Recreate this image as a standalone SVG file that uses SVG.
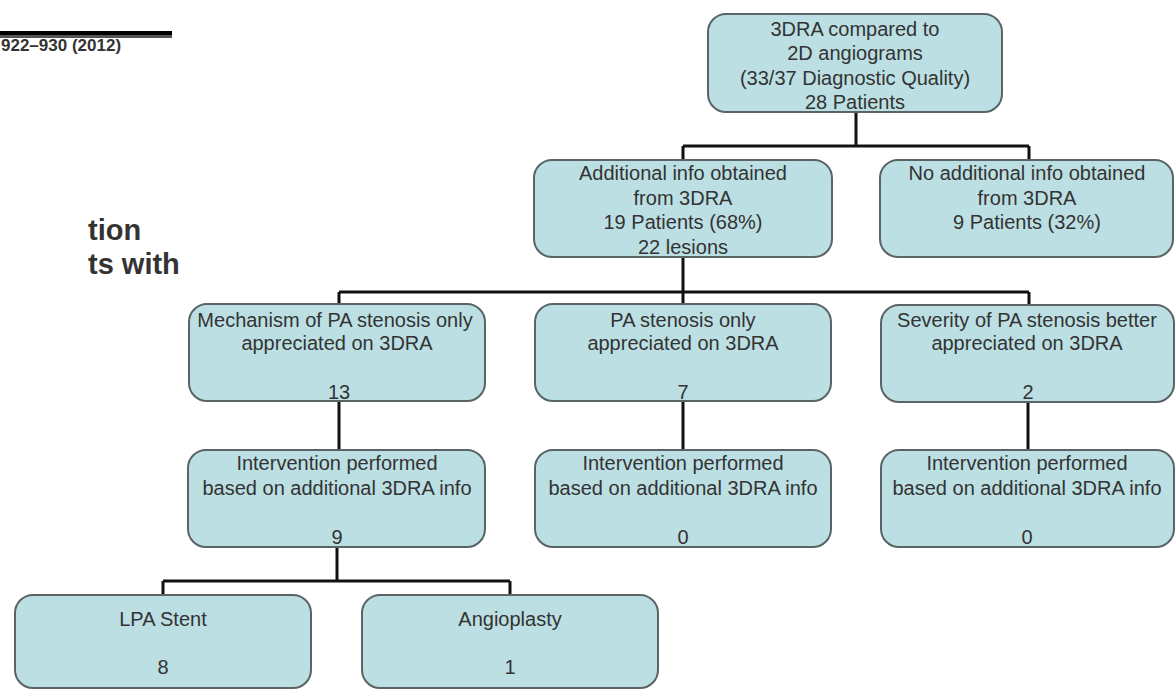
<svg xmlns="http://www.w3.org/2000/svg" width="1175" height="691" viewBox="0 0 1175 691">
<style>
.box{fill:#bcdfe3;stroke:#5a6466;stroke-width:2}
.t{font-family:"Liberation Sans",Arial,sans-serif;font-size:20px;fill:#333;text-anchor:middle}
.c{fill:none;stroke:#111;stroke-width:3}
.hdr{font-family:"Liberation Sans",Arial,sans-serif;font-weight:bold;fill:#333}
</style>
<rect width="1175" height="691" fill="#fff"/>
<g id="page">
<rect x="0" y="31" width="172" height="4" fill="#000"/>
<rect x="0" y="35" width="172" height="3" fill="#555"/>
<text class="hdr" x="1" y="51" font-size="17">922–930 (2012)</text>
<text class="hdr" x="88" y="240" font-size="29">tion</text>
<text class="hdr" x="88" y="274" font-size="29">ts with</text>
</g>
<g id="connectors">
<path class="c" d="M856 112V146M683 146H1029M683 146V160M1029 146V160"/>
<path class="c" d="M683 257V292M339 292H1029M339 292V304M683 292V304M1029 292V304"/>
<path class="c" d="M339 401V450M683 401V450M1028 402V450"/>
<path class="c" d="M337 547V581M163 581H510M163 581V595M510 581V595"/>
</g>
<g id="n1"><rect class="box" x="708" y="14" width="294" height="98" rx="18"/>
<text class="t" x="855" y="36">3DRA compared to</text><text class="t" x="855" y="60">2D angiograms</text><text class="t" x="855" y="85">(33/37 Diagnostic Quality)</text><text class="t" x="855" y="109">28 Patients</text></g>
<g id="n2"><rect class="box" x="534" y="160" width="298" height="97" rx="18"/>
<text class="t" x="683" y="180">Additional info obtained</text><text class="t" x="683" y="205">from 3DRA</text><text class="t" x="683" y="229">19 Patients (68%)</text><text class="t" x="683" y="254">22 lesions</text></g>
<g id="n3"><rect class="box" x="880" y="160" width="293" height="97" rx="18"/>
<text class="t" x="1027" y="180">No additional info obtained</text><text class="t" x="1027" y="205">from 3DRA</text><text class="t" x="1027" y="229">9 Patients (32%)</text></g>
<g id="n4"><rect class="box" x="189" y="304" width="296" height="97" rx="18"/>
<text class="t" x="335" y="327">Mechanism of PA stenosis only</text><text class="t" x="337" y="350">appreciated on 3DRA</text><text class="t" x="339" y="399">13</text></g>
<g id="n5"><rect class="box" x="535" y="304" width="296" height="97" rx="18"/>
<text class="t" x="683" y="327">PA stenosis only</text><text class="t" x="683" y="350">appreciated on 3DRA</text><text class="t" x="683" y="399">7</text></g>
<g id="n6"><rect class="box" x="881" y="305" width="293" height="97" rx="18"/>
<text class="t" x="1027" y="327">Severity of PA stenosis better</text><text class="t" x="1027" y="350">appreciated on 3DRA</text><text class="t" x="1028" y="399">2</text></g>
<g id="n7"><rect class="box" x="188" y="450" width="297" height="97" rx="18"/>
<text class="t" x="337" y="470">Intervention performed</text><text class="t" x="337" y="495">based on additional 3DRA info</text><text class="t" x="337" y="544">9</text></g>
<g id="n8"><rect class="box" x="535" y="450" width="296" height="97" rx="18"/>
<text class="t" x="683" y="470">Intervention performed</text><text class="t" x="683" y="495">based on additional 3DRA info</text><text class="t" x="683" y="544">0</text></g>
<g id="n9"><rect class="box" x="881" y="450" width="293" height="97" rx="18"/>
<text class="t" x="1027" y="470">Intervention performed</text><text class="t" x="1027" y="495">based on additional 3DRA info</text><text class="t" x="1027" y="544">0</text></g>
<g id="n10"><rect class="box" x="15" y="595" width="296" height="93" rx="18"/>
<text class="t" x="163" y="626">LPA Stent</text><text class="t" x="163" y="674">8</text></g>
<g id="n11"><rect class="box" x="362" y="595" width="296" height="93" rx="18"/>
<text class="t" x="510" y="626">Angioplasty</text><text class="t" x="510" y="674">1</text></g>
</svg>
